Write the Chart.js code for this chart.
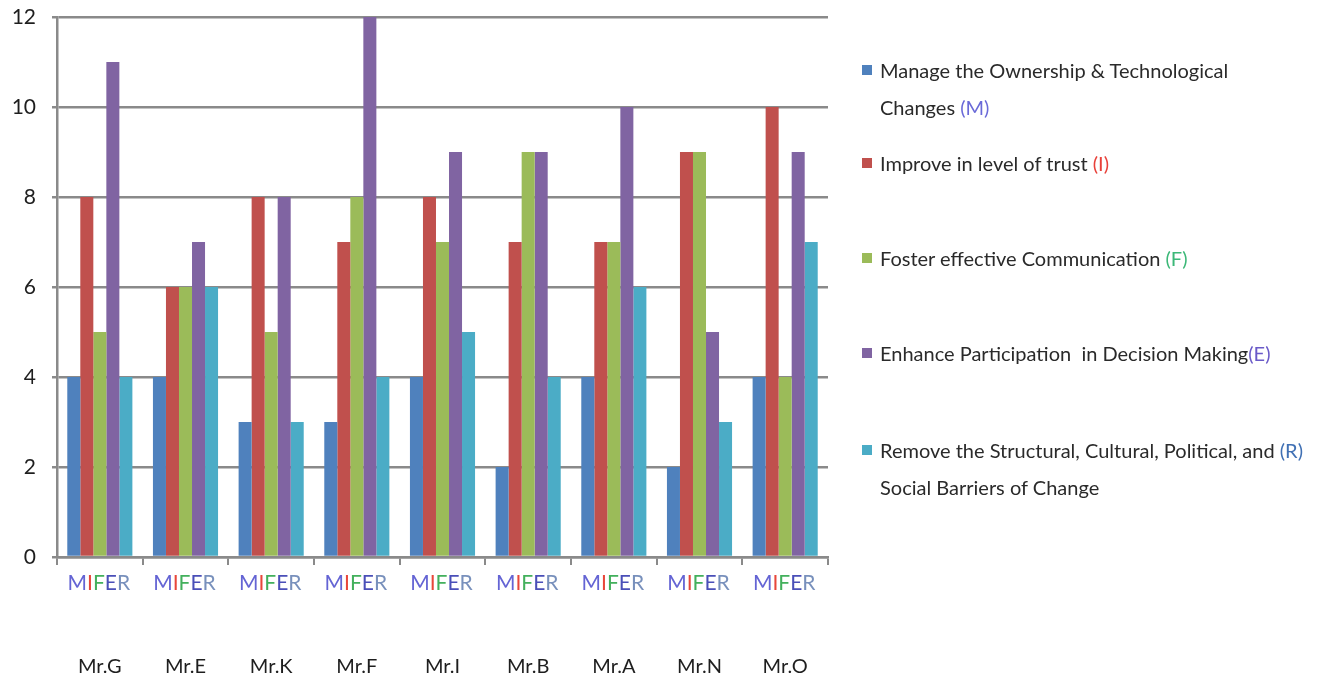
<!DOCTYPE html>
<html>
<head>
<meta charset="utf-8">
<script src="https://cdn.jsdelivr.net/npm/chart.js@4.4.1/dist/chart.umd.min.js"></script>
<style>
  html, body { margin: 0; padding: 0; background: #fff; }
  #wrap { position: relative; width: 1327px; height: 681px; }
  #legend { position: absolute; left: 0; top: 0; width: 1327px; height: 681px; pointer-events: none;
            font-family: Lato, "Open Sans", sans-serif; font-size: 20px; color: #2a2a2a; }
  .item { position: absolute; left: 862px; }
  .sw { position: absolute; left: 0; width: 10px; height: 10px; }
  .txt { position: absolute; left: 18px; white-space: pre; line-height: 37px; }
</style>
</head>
<body>
<div id="wrap">
  <canvas id="c" width="1327" height="681"></canvas>
  <div id="legend"></div>
</div>
<script>
// Managers on the category axis
const categories = ["Mr.G", "Mr.E", "Mr.K", "Mr.F", "Mr.I", "Mr.B", "Mr.A", "Mr.N", "Mr.O"];

// Scores per change-management factor
const manageOwnership   = [4, 4, 3, 3, 4, 2, 4, 2, 4];   // M
const improveTrust      = [8, 6, 8, 7, 8, 7, 7, 9, 10];  // I
const fosterComm        = [5, 6, 5, 8, 7, 9, 7, 9, 4];   // F
const enhanceDecision   = [11, 7, 8, 12, 9, 9, 10, 5, 9]; // E
const removeBarriers    = [4, 6, 3, 4, 5, 4, 6, 3, 7];   // R

// Y-axis ticks
const yTicks = [0, 2, 4, 6, 8, 10, 12];

// Legend text (line breaks as shown) and the factor code letters
const seriesNames = [
  ["Manage the Ownership & Technological", "Changes"],
  ["Improve in level of trust"],
  ["Foster effective Communication"],
  ["Enhance Participation  in Decision Making"],
  ["Remove the Structural, Cultural, Political, and", "Social Barriers of Change"]
];
const seriesCodes = ["M", "I", "F", "E", "R"];

const barColors   = ["#4F81BD", "#C0504D", "#9BBB59", "#8064A2", "#4BACC6"];
const codeColors  = ["#6464d4", "#e8463a", "#43b05c", "#4a4fb8", "#7890bc"];
const legendCodeColors = ["#6a6ad8", "#e8413a", "#3cb878", "#6a5ac8", "#4070b4"];

const values = [manageOwnership, improveTrust, fosterComm, enhanceDecision, removeBarriers];

const FONT = "Lato, 'Open Sans', sans-serif";

// Multicolour "MIFER" key beneath each group
const codeRow = {
  id: "codeRow",
  afterDraw(chart) {
    const ctx = chart.ctx;
    const xs = chart.scales.x;
    ctx.save();
    ctx.font = "21px " + FONT;
    ctx.textBaseline = "middle";
    ctx.textAlign = "left";
    const word = seriesCodes.join("");
    const w = ctx.measureText(word).width;
    categories.forEach((_, i) => {
      let x = xs.getPixelForValue(i) - w / 2 - 1;
      seriesCodes.forEach((ch, k) => {
        ctx.fillStyle = codeColors[k];
        ctx.fillText(ch, x, 583);
        x += ctx.measureText(ch).width;
      });
    });
    ctx.restore();
  }
};

const chart = new Chart(document.getElementById("c"), {
  type: "bar",
  data: {
    labels: categories,
    datasets: values.map((v, k) => ({
      label: seriesNames[k].join(" ") + " (" + seriesCodes[k] + ")",
      data: v,
      backgroundColor: barColors[k],
      borderWidth: 0,
      barPercentage: 1.0,
      categoryPercentage: 0.76
    }))
  },
  options: {
    responsive: false,
    animation: false,
    layout: { padding: { top: 17, right: 499, left: 0, bottom: 0 } },
    plugins: { legend: { display: false }, tooltip: { enabled: false } },
    scales: {
      x: {
        grid: { offset: true, drawOnChartArea: false, color: "#8a8a8a", lineWidth: 2, tickLength: 8 },
        border: { color: "#8a8a8a", width: 2.5 },
        ticks: { color: "#1e1e1e", font: { family: FONT, size: 20 }, padding: 90, maxRotation: 0 },
        afterFit(s) { s.height = 124; s.paddingLeft = 0; s.paddingRight = 0; }
      },
      y: {
        min: 0, max: 12,
        afterBuildTicks(s) { s.ticks = yTicks.map(v => ({ value: v })); },
        grid: { color: "#8a8a8a", lineWidth: 2.5, tickLength: 5 },
        border: { color: "#8a8a8a", width: 2.5 },
        ticks: { color: "#1e1e1e", font: { family: FONT, size: 21 }, padding: 16 },
        afterFit(s) { s.width = 57; s.paddingTop = 0; s.paddingBottom = 0; }
      }
    }
  },
  plugins: [codeRow]
});

// Legend on the right, built from the datasets
const legendTops = [70, 163, 258, 353, 450];
const legend = document.getElementById("legend");
chart.data.datasets.forEach((ds, k) => {
  const item = document.createElement("div");
  item.className = "item";
  item.style.top = (legendTops[k] - 18) + "px";
  const sw = document.createElement("div");
  sw.className = "sw";
  sw.style.background = ds.backgroundColor;
  sw.style.top = "13px";
  item.appendChild(sw);
  const txt = document.createElement("div");
  txt.className = "txt";
  const lines = seriesNames[k];
  const code = '<span style="color:' + legendCodeColors[k] + '">(' + seriesCodes[k] + ')</span>';
  let html;
  if (k === 4) {
    html = lines[0] + " " + code + "<br>" + lines[1];
  } else if (lines.length > 1) {
    html = lines[0] + "<br>" + lines[1] + " " + code;
  } else {
    html = lines[0] + (k === 3 ? "" : " ") + code;
  }
  txt.innerHTML = html;
  item.appendChild(txt);
  legend.appendChild(item);
});
</script>
</body>
</html>
